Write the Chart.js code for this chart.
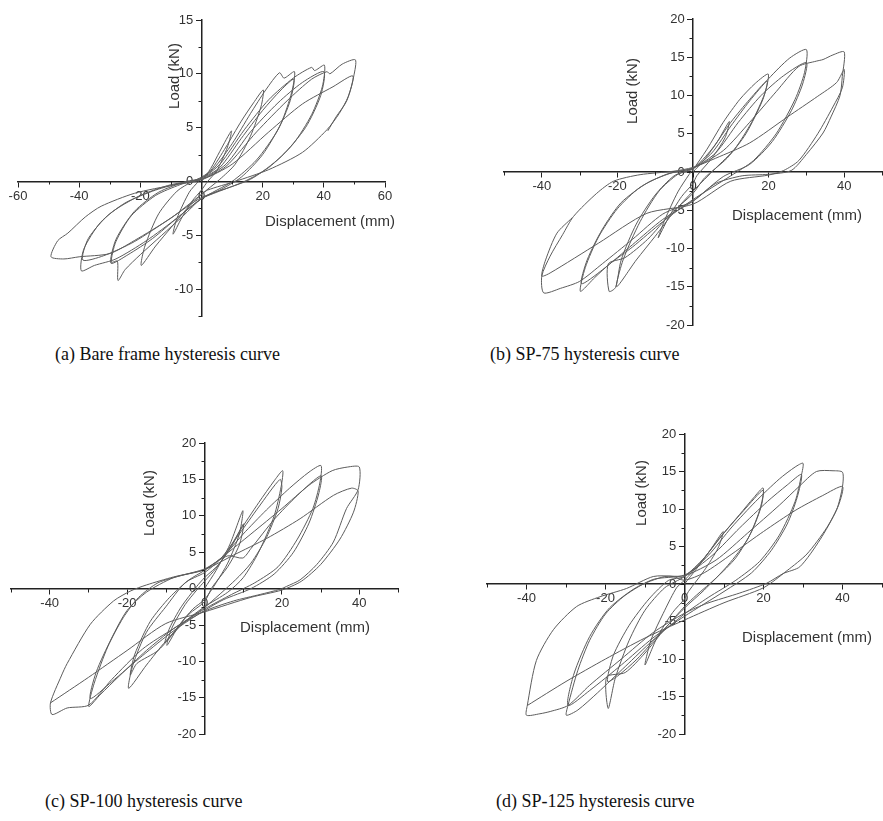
<!DOCTYPE html>
<html>
<head>
<meta charset="utf-8">
<script src="https://cdn.jsdelivr.net/npm/chart.js@4.4.1/dist/chart.umd.min.js"></script>
<style>
    body { margin: 0; background: #fff; width: 883px; height: 821px; position: relative; overflow: hidden; }
    canvas { position: absolute; }
    .cap { position: absolute; font-family: "Liberation Serif", serif; font-size: 18px; color: #111; white-space: nowrap; }
</style>
</head>
<body>
<canvas id="chartA" width="441" height="340" style="left:0;top:0"></canvas>
<canvas id="chartB" width="442" height="340" style="left:441px;top:0"></canvas>
<canvas id="chartC" width="441" height="345" style="left:0;top:400px"></canvas>
<canvas id="chartD" width="442" height="345" style="left:441px;top:400px"></canvas>

<div class="cap" style="left:55px;top:344px">(a) Bare frame hysteresis curve</div>
<div class="cap" style="left:490px;top:344px">(b) SP-75 hysteresis curve</div>
<div class="cap" style="left:45px;top:791px">(c) SP-100 hysteresis curve</div>
<div class="cap" style="left:496px;top:791px">(d) SP-125 hysteresis curve</div>

<script>
// [displacement (mm), load (kN)], in loading order
var loopA = [
    [0, 0], [3, 1.2], [6, 2.8], [9.8, 4.7],
    [8.5, 3.2], [5, 1.0], [2, 0], [0, -0.8],
    [-3, -1.8], [-6.5, -3.4], [-9.3, -4.9],
    [-8, -3.4], [-4, -1.0], [-1, 0], [0, 0.3],
    [3, 1.0], [8, 3.2], [13, 5.6], [17, 7.3], [20.2, 8.5],
    [19.5, 7], [16, 4.2], [11, 1.6], [6, 0.2], [0, -1.2],
    [-5, -2.6], [-10, -4.3], [-15, -6.0], [-19.7, -7.8],
    [-18.5, -6], [-14, -3], [-8, -0.9], [-3, 0], [0, 0.4],
    [4, 1.2], [10, 3.5], [16, 6.3], [21, 8.5], [25.5, 10.1], [27, 9.6], [30.4, 10.2],
    [29.5, 8.3], [26, 5.4], [20, 2.5], [13, 0.4], [6, -0.8], [0, -1.6],
    [-6, -3.2], [-13, -5.0], [-20, -6.8], [-25, -8.2], [-27.3, -9.2], [-27.5, -7.4], [-29.5, -7.5],
    [-28, -5.6], [-23, -3.2], [-15, -1.3], [-7, -0.3], [0, 0.3],
    [6, 1.3], [13, 4], [20, 6.6], [26, 8.5], [30.2, 9.5],
    [29, 7.5], [25, 4.8], [18, 2], [10, 0], [0, -1.6],
    [-8, -3.4], [-16, -5.3], [-24, -6.8], [-29.6, -7.6],
    [-28, -5.4], [-22, -2.8], [-14, -1], [-5, 0], [0, 0.3],
    [6, 1.6], [14, 4.8], [22, 7.6], [30, 9.6], [36, 10.6], [37, 10.3], [40.2, 10.8],
    [39.5, 8.8], [36, 6.2], [30, 3.5], [22, 1.3], [14, 0], [5, -1], [0, -1.6],
    [-8, -3.4], [-18, -5.5], [-28, -7.2], [-35, -7.8], [-39.3, -8.3],
    [-38.5, -6.3], [-33, -3.8], [-25, -2], [-15, -0.8], [-6, -0.1], [0, 0.2],
    [8, 1.6], [16, 4.6], [25, 7.3], [33, 9.2], [40, 10.2],
    [39, 8], [34, 5], [26, 2.3], [16, 0.2], [0, -1.5],
    [-10, -3.4], [-22, -5.6], [-32, -6.9], [-38.8, -7.3],
    [-37, -5.3], [-30, -3], [-20, -1.3], [-10, -0.3], [0, 0.2],
    [8, 1.4], [18, 4.6], [28, 7.5], [36, 9.5], [41, 10.2], [42, 10.0], [46, 10.9], [50.3, 11.3],
    [49.8, 9.8], [48, 7.9], [45, 6.3], [41, 4.8], [33, 2.7], [22, 1.1], [11, 0], [2, -0.8], [0, -1.2],
    [-10, -3.4], [-22, -5.5], [-30, -6.7], [-40, -7.0], [-45, -7.2], [-49.2, -7.0],
    [-47, -5.5], [-43.7, -4.8], [-38, -3.3], [-32.8, -2.3], [-21.9, -1.1], [-8.7, -0.3], [0, 0.15],
    [10, 1.6], [22, 4.6], [33, 7.2], [43, 8.8], [49.5, 9.8],
    [47.5, 7.5], [44, 6], [41.3, 4.7]
];

var loopB = [
    [0, 0], [3, 1.6], [6.5, 4], [9.6, 6.6],
    [8.5, 4.5], [5, 1.8], [1, -0.5], [0, -1.5],
    [-3, -3.2], [-6.5, -6], [-9.2, -8.6],
    [-7.5, -6.3], [-4, -2.6], [-1, -0.3], [0, 0.3],
    [3.6, 2.9], [8, 6.5], [12.4, 9.5], [16.5, 11.6], [19.9, 12.8],
    [19, 10.3], [15.5, 6.5], [11, 3], [6, 0.5], [0, -2.5],
    [-5, -5.2], [-10, -8.4], [-15, -11.5], [-20.2, -15],
    [-18.5, -11.5], [-14, -6.5], [-9, -2.5], [-4, -0.3], [0, 0.4],
    [5, 3], [10, 6.5], [15, 9.5], [19.6, 11.9],
    [18.5, 9.5], [14, 5], [9, 1.8], [3, -0.8], [0, -2.8],
    [-6, -5.5], [-12, -8.8], [-18, -11.2], [-22.4, -12], [-22.2, -15.6], [-20.5, -15.1],
    [-19, -11.5], [-15, -6.8], [-10, -3], [-5, -0.5], [0, 0.5],
    [5, 2.5], [10, 6], [15, 9.3], [20, 12.2], [25.6, 14.9], [30, 16],
    [29.5, 13], [27, 9.5], [22, 5], [16, 1.5], [10, -0.5], [0, -3.6],
    [-8, -6.5], [-16, -9.8], [-22, -12], [-26, -13.8], [-29.8, -15.6],
    [-28.5, -12.5], [-25, -8.5], [-20, -4.8], [-14, -2.0], [-7, -0.3], [0, 0.5],
    [6, 2.5], [12, 6.5], [18, 10], [24, 12.6], [30, 14.3],
    [29, 11.5], [26, 8], [21, 4], [15, 1], [8, -0.6], [0, -3.8],
    [-8, -6.2], [-16, -9.5], [-24, -12.8], [-29.5, -14.6],
    [-28, -11.5], [-24, -7.5], [-19, -4], [-12, -1.4], [-5, 0], [0, 0.5],
    [8, 2.8], [15, 6.5], [22, 10.5], [28, 13.8], [32.7, 14.5], [34.4, 14.7], [37, 15.3], [40, 15.7],
    [39.5, 12.5], [38.9, 10], [36.5, 7.2], [34.4, 5.1], [30, 2.3], [26, 0.2], [20, -0.3], [13, -0.5], [6, -1.5], [0, -3.8],
    [-8, -5.5], [-16, -8.8], [-24, -12], [-30, -14.3], [-35, -15.2], [-39.5, -15.8],
    [-40, -13.6], [-37.8, -11], [-34.5, -8.2], [-31.6, -5.8], [-25.5, -2.8], [-21, -1.2], [-14, -0.35], [-5.2, 0.1], [0, 0.6],
    [6, 1.8], [15, 3.8], [25, 7.2], [33, 9.9], [38, 11.7], [40, 13.4],
    [39.5, 11], [37, 8.5], [33, 5], [28, 1.5], [24, 0.2], [20, -0.4], [10, -1.2], [0, -4.2],
    [-12.2, -5.4], [-25, -9.3], [-37.8, -13.2], [-40, -13.6],
    [-39, -11.5], [-36, -8], [-32, -6]
];

var loopC = [
    [0, 0], [3, 2.5], [6.5, 6], [9.9, 10.7],
    [9, 7.5], [6, 3.5], [3, 0.8], [0, -1.5],
    [-3, -2.8], [-6.5, -5], [-9.7, -7.8],
    [-8.5, -5.5], [-5, -2.2], [-2, -0.2], [0, 1.0],
    [3, 2.8], [7, 5.8], [10.1, 8.9],
    [9, 6], [6, 3], [2, 0.2], [0, -1.8],
    [-4, -3.5], [-8, -6], [-10.2, -7.4],
    [-9, -5.4], [-6, -2.5], [-2, 0.3], [0, 1.5],
    [4, 3.5], [9, 7.8], [14, 11.8], [18, 14.8], [20.2, 16.2],
    [19.8, 14], [18, 10], [14, 5], [10, 1.5], [6, -0.5], [0, -2.5],
    [-5, -4.5], [-10, -7.2], [-15, -10.5], [-19.6, -13.7],
    [-18.5, -10.5], [-15, -6], [-10, -2.5], [-5, 0.8], [0, 2.2],
    [4, 4], [9, 7.5], [14, 11.2], [19.5, 15], [20, 13.9],
    [19, 11], [16, 7], [12, 3.5], [8, 1.2], [0, -2.6],
    [-6, -5], [-12, -8.5], [-17.5, -10.3], [-19.2, -11.9],
    [-18, -9], [-14, -4.5], [-9, -1.2], [-4, 1.2], [0, 2.5],
    [5, 4.5], [10, 7.5], [16, 10.8], [22, 13.8], [27, 16], [30.1, 16.9],
    [29.8, 14.5], [28, 11], [24, 6.8], [19, 3], [13, 0.8], [7, -0.8], [0, -2.8],
    [-8, -5.5], [-15, -8.5], [-22, -12], [-27, -14.6], [-29.9, -16.2],
    [-28.5, -13], [-25, -8], [-21, -4], [-17, -1.2], [-12, 0.8], [-6, 1.8], [0, 2.7],
    [6, 4.5], [9.9, 4.2], [12, 5.5], [18, 9.5], [24, 12.8], [30.1, 15.5],
    [29.5, 13], [27, 9], [23, 5], [18, 2], [12, 0], [5, -1.5], [0, -3],
    [-8, -5.8], [-16, -9.2], [-24, -12.8], [-29.5, -15.1],
    [-28, -11.5], [-24, -6.8], [-20, -3], [-15, -0.5], [-8, 1.5], [0, 2.6],
    [5, 4.5], [12, 7.5], [20, 11], [27, 14.2], [33, 16.2], [37, 16.7], [40, 16.7],
    [39.7, 13.6], [36.7, 11], [33.3, 6.4], [29, 3.3], [24.7, 1.2], [21.2, 0.3], [19.5, -0.1], [14.4, -0.8], [7.5, -1.7], [0, -3.1],
    [-8, -5.5], [-16, -8.3], [-24, -12.5], [-29.9, -16.0], [-35.5, -16.4], [-39.4, -17.3],
    [-39.8, -15.7], [-37, -12], [-35.5, -10.3], [-29.5, -4.9], [-23.5, -1.7], [-19, -0.3], [-15, 0.5], [-8, 1.6], [0, 2.6],
    [7.5, 4.6], [16.1, 6.9], [24.7, 9.6], [33.3, 12.8], [38, 13.8], [39.7, 13.4],
    [38.5, 10.5], [35, 6.8], [30, 3.3], [25, 1], [20, -0.2], [12, -1.2], [0, -3.2],
    [-10, -4.8], [-20, -8.5], [-30, -12.2], [-39.8, -15.7]
];

var loopD = [
    [0, 0], [3, 2], [6.5, 4.5], [9.8, 7.0],
    [8.5, 4.8], [5, 1.8], [1, -1], [0, -2],
    [-3, -3.8], [-7, -7.2], [-10, -10.8],
    [-8.5, -7.5], [-5, -3.5], [-2, -0.5], [0, 0.5],
    [4, 2.8], [9, 6.2], [14, 9.3], [17.5, 11.5], [19.9, 12.8],
    [19.5, 10.5], [17, 7], [13, 3.5], [8, 0.8], [3, -1.5], [0, -3],
    [-5, -6], [-10, -9.2], [-15, -11.8], [-19.7, -12.4], [-19.3, -16.6],
    [-17.5, -12.5], [-14, -7.5], [-10, -3.5], [-5, -0.5], [0, 1],
    [5, 3.5], [10, 6.8], [15, 9.8], [19.9, 12.5],
    [19, 9.8], [16, 6], [11, 2.5], [5, -0.8], [0, -3.2],
    [-6, -6.5], [-12, -10], [-17, -12.3], [-19.5, -13],
    [-18, -9.5], [-14, -5.5], [-9, -2], [-4, 0.5], [0, 1],
    [6, 3.8], [12, 7.6], [18, 11], [24, 14], [28, 15.6], [30, 16.1],
    [29.6, 14.5], [28, 11], [24, 6.5], [19, 3], [13, 0.5], [6, -1.8], [0, -4],
    [-8, -7.5], [-15, -11], [-22, -14.5], [-27, -16.8], [-29.9, -17.5],
    [-29.5, -16.2], [-27, -11.5], [-24, -7.5], [-20, -4], [-15, -1.5], [-8, 0.6], [0, 1.2],
    [7, 3.8], [14, 7.5], [21, 11], [26, 13.2], [29.6, 14.6],
    [28.5, 11.5], [26, 8], [22, 4.5], [17, 1.5], [10, -1], [0, -4.3],
    [-8, -7.2], [-16, -10.8], [-24, -14.2], [-29.5, -16.2],
    [-28, -12], [-24, -7], [-19, -3.2], [-12, -0.4], [-5, 1], [0, 1.1],
    [8, 3.2], [16, 6.8], [24, 10.5], [29, 13], [33.4, 15.0], [37.6, 15.1], [40, 14.9],
    [40, 13], [38.5, 9.9], [34.3, 5.9], [29.2, 2.3], [25, 1.4], [20.8, 0.1], [14, -1.2], [5.6, -2.6], [0, -3.9],
    [-8, -6.5], [-16, -10], [-24, -13.5], [-29.5, -16.2], [-34, -17], [-36.6, -17.3], [-40, -17.5],
    [-39.8, -16.2], [-37.5, -10.2], [-33.2, -6.1], [-27.3, -3.0], [-21.4, -1.7], [-14.7, -0.6], [-7.9, 1.0], [-2.9, 1.0], [0, 0.5],
    [5, 1.5], [12, 4], [20, 7], [28, 9.8], [35, 11.8], [40, 13.0],
    [39, 10.5], [36, 7.5], [31, 4], [26, 1.8], [20, -0.5], [10, -2.5], [0, -4.8],
    [-10, -7.2], [-20, -10], [-30, -13], [-39.8, -16.2]
];

// tick values (labelled) and minor tick positions
var xTicksA = [-60, -40, -20, 0, 20, 40, 60];
var yTicksA = [-10, -5, 0, 5, 10, 15];
var xMinorA = [-50, -30, -10, 10, 30, 50];
var yMinorA = [-12.5, -7.5, -2.5, 2.5, 7.5, 12.5];
var xTicks50 = [-40, -20, 0, 20, 40];
var yTicks20 = [-20, -15, -10, -5, 0, 5, 10, 15, 20];
var xMinor50 = [-50, -30, -10, 10, 30, 50];
var yMinor20 = [-17.5, -12.5, -7.5, -2.5, 2.5, 7.5, 12.5, 17.5];

var tickFont = { family: '"Liberation Sans", Arial, sans-serif', size: 13 };

// minor ticks + axis titles, placed relative to the origin pixel
var axisExtras = {
    id: "axisExtras",
    afterDraw: function (chart, args, opts) {
        var ctx = chart.ctx;
        var xs = chart.scales.x, ys = chart.scales.y;
        var ox = Math.round(xs.getPixelForValue(0));
        var oy = Math.round(ys.getPixelForValue(0));
        ctx.save();
        ctx.strokeStyle = "#222";
        ctx.lineWidth = 1;
        ctx.beginPath();
        opts.xMinor.forEach(function (v) {
            var p = Math.round(xs.getPixelForValue(v)) + 0.5;
            ctx.moveTo(p, oy);
            ctx.lineTo(p, oy + 3.5);
        });
        opts.yMinor.forEach(function (v) {
            var p = Math.round(ys.getPixelForValue(v)) + 0.5;
            ctx.moveTo(ox, p);
            ctx.lineTo(ox - 3.5, p);
        });
        ctx.stroke();

        ctx.fillStyle = "#333";
        ctx.font = '15px "Liberation Sans", Arial, sans-serif';
        ctx.textBaseline = "middle";
        ctx.textAlign = "left";
        ctx.fillText("Displacement (mm)", ox + opts.xTitle[0], oy + opts.xTitle[1]);
        ctx.translate(ox + opts.yTitle[0], oy + opts.yTitle[1]);
        ctx.rotate(-Math.PI / 2);
        ctx.textAlign = "center";
        ctx.fillText("Load (kN)", 0, 0);
        ctx.restore();
    }
};

function makeChart(id, loop, xr, yr, xTicks, yTicks, xMinor, yMinor, pad, xTitle, yTitle) {
    var ctx = document.getElementById(id).getContext("2d");
    return new Chart(ctx, {
        type: "scatter",
        data: {
            datasets: [{
                data: loop.map(function (p) { return { x: p[0], y: p[1] }; }),
                showLine: true,
                borderColor: "#5c5c5c",
                borderWidth: 1,
                pointRadius: 0,
                tension: 0.25,
                fill: false
            }]
        },
        options: {
            responsive: false,
            animation: false,
            layout: { padding: pad },
            plugins: {
                legend: { display: false },
                tooltip: { enabled: false },
                axisExtras: { xMinor: xMinor, yMinor: yMinor, xTitle: xTitle, yTitle: yTitle }
            },
            scales: {
                x: {
                    type: "linear",
                    min: xr[0], max: xr[1],
                    position: { y: 0 },
                    border: { color: "#222", width: 1.5 },
                    grid: { drawOnChartArea: false, tickLength: 5, color: "#222", tickWidth: 1 },
                    ticks: { autoSkip: false, maxRotation: 0, padding: 2, font: tickFont, color: "#333" },
                    afterBuildTicks: function (s) { s.ticks = xTicks.map(function (v) { return { value: v }; }); },
                    afterFit: function (s) { s.height = 0; }
                },
                y: {
                    type: "linear",
                    min: yr[0], max: yr[1],
                    position: { x: 0 },
                    border: { color: "#222", width: 1.5 },
                    grid: { drawOnChartArea: false, tickLength: 5, color: "#222", tickWidth: 1 },
                    ticks: {
                        autoSkip: false, font: tickFont, color: "#333",
                        // labels sit right-aligned on the axis line, so pad them past the tick marks
                        callback: function (v) { return v + "  \u200a"; }
                    },
                    afterBuildTicks: function (s) { s.ticks = yTicks.map(function (v) { return { value: v }; }); },
                    afterFit: function (s) { s.width = 0; }
                }
            }
        },
        plugins: [axisExtras]
    });
}

makeChart("chartA", loopA, [-60, 60], [-12.5, 15], xTicksA, yTicksA, xMinorA, yMinorA,
    { left: 18, right: 56, top: 20, bottom: 24 }, [63, 41], [-27, -105]);
makeChart("chartB", loopB, [-50, 50], [-20, 20], xTicks50, yTicks20, xMinor50, yMinor20,
    { left: 63, right: 1, top: 19, bottom: 15 }, [39, 44], [-60, -81]);
makeChart("chartC", loopC, [-50, 50], [-20, 20], xTicks50, yTicks20, xMinor50, yMinor20,
    { left: 11, right: 43, top: 43, bottom: 7 }, [35, 39], [-55, -86]);
makeChart("chartD", loopD, [-50, 50], [-20, 20], xTicks50, yTicks20, xMinor50, yMinor20,
    { left: 46, right: 1, top: 34, bottom: 11 }, [57, 54], [-43, -91]);
</script>
</body>
</html>
